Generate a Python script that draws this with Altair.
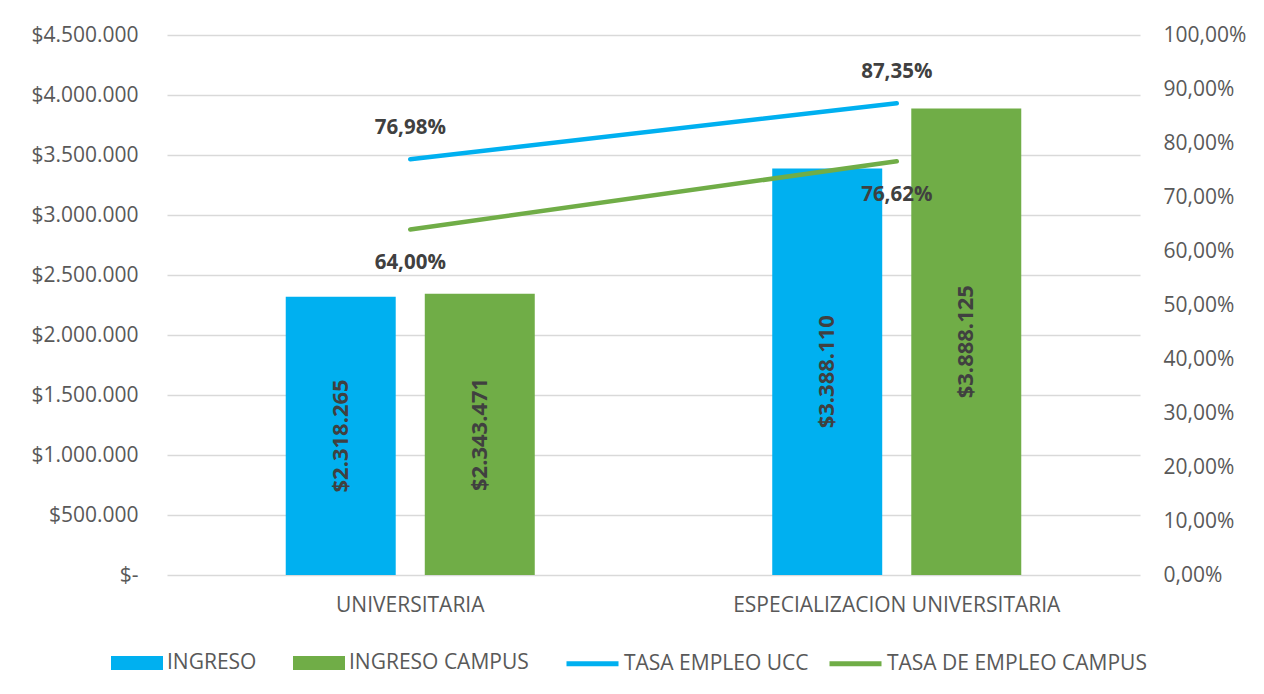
import altair as alt
import pandas as pd

categories = ["UNIVERSITARIA", "ESPECIALIZACION UNIVERSITARIA"]
bar_series = ["INGRESO", "INGRESO CAMPUS"]
line_series = ["TASA EMPLEO UCC", "TASA DE EMPLEO CAMPUS"]
ingreso = [2318265, 3388110]
ingreso_campus = [2343471, 3888125]
tasa_ucc = [0.7698, 0.8735]
tasa_campus = [0.6400, 0.7662]
left_ticks = [0, 500000, 1000000, 1500000, 2000000, 2500000, 3000000, 3500000, 4000000, 4500000]
right_ticks = [0.0, 0.1, 0.2, 0.3, 0.4, 0.5, 0.6, 0.7, 0.8, 0.9, 1.0]

BLUE = "#00B0F0"
GREEN = "#70AD47"
FONT = "Open Sans"
AX = 21

bars_df = pd.DataFrame(
    [{"cat": c, "serie": bar_series[0], "value": v} for c, v in zip(categories, ingreso)]
    + [{"cat": c, "serie": bar_series[1], "value": v} for c, v in zip(categories, ingreso_campus)]
)
lines_df = pd.DataFrame(
    [{"cat": c, "serie": line_series[0], "value": v} for c, v in zip(categories, tasa_ucc)]
    + [{"cat": c, "serie": line_series[1], "value": v} for c, v in zip(categories, tasa_campus)]
)

x_axis = alt.Axis(title=None, labelAngle=0, domain=False, ticks=False, labelLimit=0,
                  labelPadding=19, labelFontSize=AX, labelColor="#595959", labelFont=FONT)
x_enc = alt.X("cat:N", sort=categories, scale=alt.Scale(paddingInner=0, paddingOuter=0), axis=x_axis)
x_plain = alt.X("cat:N", sort=categories, axis=x_axis)
xoff = alt.XOffset("serie:N", sort=bar_series,
                   scale=alt.Scale(paddingInner=0.209, paddingOuter=0.854))

money_expr = ("datum.value == 0 ? '$-' : '$' + replace(replace(format(datum.value, ',.0f'), ',', '.'), ',', '.')")
pct_expr = "replace(format(datum.value, '.2%'), '.', ',')"

left_axis = alt.Axis(title=None, values=left_ticks, labelExpr=money_expr, domain=False, ticks=False,
                     grid=True, gridColor="#D9D9D9", gridWidth=1.3, labelPadding=29,
                     labelFontSize=AX, labelColor="#595959", labelFont=FONT)
left_scale = alt.Scale(domain=[0, 4500000], nice=False)

bar_sym = "M-1,-0.27H1V0.27H-1Z"

bars = alt.Chart(bars_df).mark_bar().encode(
    x=x_enc,
    xOffset=xoff,
    y=alt.Y("value:Q", scale=left_scale, axis=left_axis),
    color=alt.Color("serie:N", sort=bar_series,
                    scale=alt.Scale(domain=bar_series, range=[BLUE, GREEN]),
                    legend=alt.Legend(title=None, orient="none", legendX=-57, legendY=601,
                                      direction="horizontal", symbolType=bar_sym, symbolSize=2704,
                                      symbolOpacity=1, labelFontSize=AX, labelColor="#595959",
                                      labelFont=FONT, labelOffset=3, columnPadding=35, labelLimit=0)),
)

bar_text = alt.Chart(bars_df).transform_calculate(
    mid="datum.value / 2",
    label="'$' + replace(replace(format(datum.value, ',.0f'), ',', '.'), ',', '.')",
).mark_text(angle=270, font=FONT, fontSize=22, fontWeight="bold", color="#404040").encode(
    x=x_plain,
    xOffset=alt.XOffset("serie:N", sort=bar_series),
    y=alt.Y("mid:Q", scale=left_scale, axis=left_axis),
    text="label:N",
)

left = alt.layer(bars, bar_text)

right_axis = alt.Axis(title=None, orient="right", values=right_ticks, labelExpr=pct_expr,
                      domain=False, ticks=False, grid=False, labelPadding=23,
                      labelFontSize=AX, labelColor="#595959", labelFont=FONT)
right_scale = alt.Scale(domain=[0, 1], nice=False)

lines = alt.Chart(lines_df).mark_line(strokeWidth=4.5, strokeCap="round").encode(
    x=x_plain,
    y=alt.Y("value:Q", scale=right_scale, axis=right_axis),
    stroke=alt.Stroke("serie:N", sort=line_series,
                      scale=alt.Scale(domain=line_series, range=[BLUE, GREEN]),
                      legend=alt.Legend(title=None, orient="none", legendX=397, legendY=600,
                                        direction="horizontal", symbolType="stroke", symbolSize=2704,
                                        symbolStrokeWidth=5, labelFontSize=AX, labelColor="#595959",
                                        labelFont=FONT, labelOffset=3, columnPadding=10, labelLimit=0)),
    detail="serie:N",
)

line_lbl = alt.Chart(lines_df).transform_calculate(
    label="replace(format(datum.value, '.2%'), '.', ',')"
)
lbl_ucc = line_lbl.transform_filter(alt.datum.serie == line_series[0]).mark_text(
    dy=-31, font=FONT, fontSize=20.5, fontWeight="bold", color="#404040").encode(
    x=x_plain, y=alt.Y("value:Q", scale=right_scale, axis=right_axis), text="label:N")
lbl_campus = line_lbl.transform_filter(alt.datum.serie == line_series[1]).mark_text(
    dy=34, font=FONT, fontSize=20.5, fontWeight="bold", color="#404040").encode(
    x=x_plain, y=alt.Y("value:Q", scale=right_scale, axis=right_axis), text="label:N")

right = alt.layer(lines, lbl_ucc, lbl_campus)

chart = alt.layer(left, right).resolve_scale(y="independent").properties(
    width=973, height=540,
    background="white",
    autosize=alt.AutoSizeParams(type="none"),
    padding={"left": 159, "top": 27, "right": 114, "bottom": 109},
).configure_view(stroke=None)

chart.save("out.html", embed_options={"renderer": "svg", "actions": False})
